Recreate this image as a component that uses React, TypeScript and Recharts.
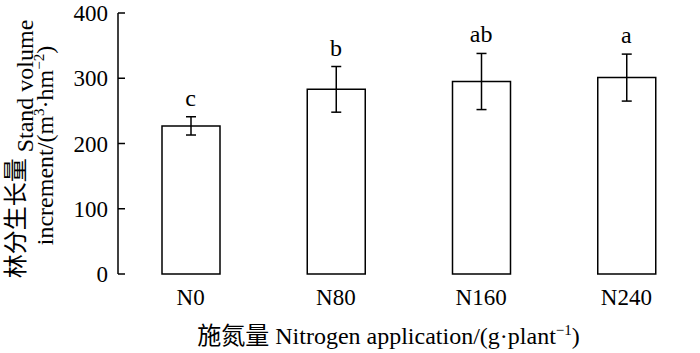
import React from 'react';
import { ComposedChart, Bar, Line, XAxis, YAxis, ErrorBar, LabelList, Label } from 'recharts';

const categories = ['N0', 'N80', 'N160', 'N240'];
const values = [227, 283, 295, 301];
const errors = [14, 35, 43, 36];
const letters = ['c', 'b', 'ab', 'a'];
const yTicks = [0, 100, 200, 300, 400];
const boundaryTicks = [1, 2, 3, 4];

const data = categories.map((c, i) => ({
  name: c,
  value: values[i],
  err: errors[i],
  top: values[i] + errors[i],
  letter: letters[i],
}));

const FONT = "'Liberation Serif', 'Times New Roman', Times, 'DejaVu Serif', serif, 'Noto Sans CJK SC'";

const YLabel = (props: any) => {
  const vb = props.viewBox || { y: 13, height: 261 };
  const cy = vb.y + vb.height / 2;
  return (
    <g style={{ fontFamily: FONT }} fontSize={24} fill="#000">
      <text transform={`translate(33,${cy + 5.5}) rotate(-90)`} textAnchor="middle">
        <tspan dy={-9}>林分生长量</tspan>
        <tspan dy={9}> Stand volume</tspan>
      </text>
      <text transform={`translate(53,${cy + 2}) rotate(-90)`} textAnchor="middle">
        increment/(m
        <tspan dy={-9} fontSize={15}>3</tspan>
        <tspan dy={9}>·hm</tspan>
        <tspan dy={-9} fontSize={15}>−2</tspan>
        <tspan dy={9}>)</tspan>
      </text>
    </g>
  );
};

const XLabel = (props: any) => {
  const vb = props.viewBox || { x: 118, width: 581, y: 274 };
  const cx = vb.x + vb.width / 2 - 20;
  return (
    <text x={cx} y={344} textAnchor="middle" style={{ fontFamily: FONT }} fontSize={24} fill="#000">
      施氮量 Nitrogen application/(g·plant
      <tspan dy={-9} fontSize={15}>−1</tspan>
      <tspan dy={9}>)</tspan>
    </text>
  );
};

export default function App() {
  return (
    <div style={{ position: 'absolute', left: 0, top: 0, background: '#fff' }}>
      <ComposedChart
        width={700}
        height={353}
        data={data}
        margin={{ top: 13, right: 1, bottom: 0, left: 0 }}
      >
        <XAxis
          xAxisId="0"
          dataKey="name"
          type="category"
          axisLine={false}
          tickLine={false}
          tickSize={0}
          tickMargin={15}
          height={79}
          tick={{ fontSize: 23, fill: '#000', style: { fontFamily: FONT } }}
        >
          <Label content={<XLabel />} />
        </XAxis>
        <XAxis
          xAxisId="n"
          type="number"
          domain={[0, 4]}
          ticks={boundaryTicks}
          allowDataOverflow
          height={0}
          tick={false}
          tickSize={-6}
          axisLine={{ stroke: '#000', strokeWidth: 1.5 }}
          tickLine={{ stroke: '#000', strokeWidth: 1.5 }}
        />
        <YAxis
          type="number"
          domain={[0, 400]}
          ticks={yTicks}
          width={118}
          tickSize={-7}
          tickMargin={17}
          axisLine={{ stroke: '#000', strokeWidth: 1.5 }}
          tickLine={{ stroke: '#000', strokeWidth: 1.5 }}
          tick={{ fontSize: 23, fill: '#000', style: { fontFamily: FONT } }}
        >
          <Label content={<YLabel />} />
        </YAxis>
        <Bar
          dataKey="value"
          xAxisId="0"
          fill="#fff"
          stroke="#000"
          strokeWidth={1.5}
          barSize={58}
          isAnimationActive={false}
        >
          <ErrorBar dataKey="err" width={5} stroke="#000" strokeWidth={1.5} direction="y" />
        </Bar>
        <Line
          dataKey="top"
          xAxisId="0"
          stroke="none"
          dot={false}
          activeDot={false}
          isAnimationActive={false}
        >
          <LabelList
            dataKey="letter"
            position="top"
            offset={11}
            fill="#000"
            fontSize={24}
            style={{ fontFamily: FONT }}
          />
        </Line>
      </ComposedChart>
    </div>
  );
}
